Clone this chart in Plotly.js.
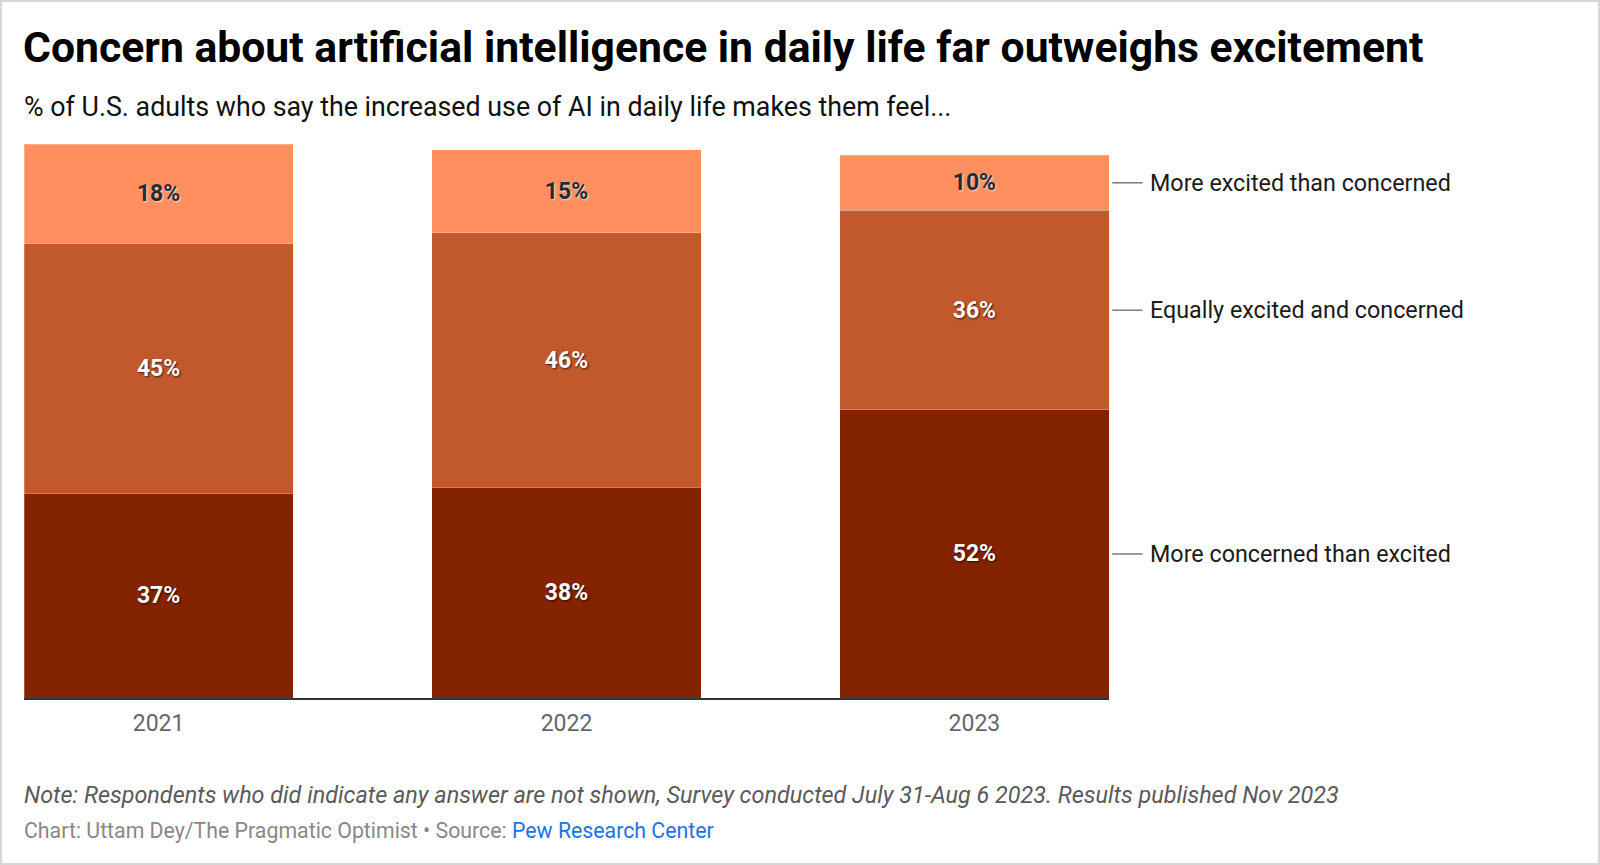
<!DOCTYPE html>
<html>
<head>
<meta charset="utf-8">
<script src="https://cdn.plot.ly/plotly-3.0.1.min.js"></script>
<style>
  html, body { margin: 0; padding: 0; background: #fff; }
  #wrap { position: relative; width: 1600px; height: 865px; }
  #chart { width: 1600px; height: 865px; }
  #frame { position: absolute; left: 0; top: 0; width: 1600px; height: 865px; box-sizing: border-box; border: 2px solid #d6d6d6; pointer-events: none; }
</style>
</head>
<body>
<div id="wrap"><div id="chart"></div><div id="frame"></div></div>
<script>
const years = ['2021', '2022', '2023'];
const seriesNames = ['More concerned than excited', 'Equally excited and concerned', 'More excited than concerned'];
const concerned = [37, 38, 52];
const equally = [45, 46, 36];
const excited = [18, 15, 10];
const colors = ['#832300', '#C1592D', '#FF8F5E'];

const values = [concerned, equally, excited];
const darkShadow = '1px 1px 2px rgba(0,0,0,0.7)';
const lightShadow = '1px 1px 2px rgba(255,255,255,0.7)';

const traces = values.map((vals, i) => ({
  type: 'bar',
  name: seriesNames[i],
  x: years,
  y: vals,
  marker: { color: colors[i], line: { color: 'rgba(255,255,255,0.25)', width: 1 } },
  text: vals.map(v => v + '%'),
  textposition: 'inside',
  insidetextanchor: 'middle',
  textangle: 0,
  constraintext: 'none',
  textfont: {
    family: 'Roboto, sans-serif', size: 23, weight: 700,
    color: i === 2 ? '#1f2d33' : '#ffffff',
    shadow: i === 2 ? lightShadow : darkShadow
  },
  hoverinfo: 'skip'
}));

// right-side labels at the middle of each 2023 segment
const last = years.length - 1;
const shapes = [];
const annotations = [];
let cum = 0;
values.forEach((vals, i) => {
  const mid = cum + vals[last] / 2;
  cum += vals[last];
  shapes.push({ type: 'line', xref: 'paper', yref: 'y', x0: 1.003, x1: 1.031, y0: mid, y1: mid,
    line: { color: '#7a7a7a', width: 1.5 } });
  annotations.push({ xref: 'paper', yref: 'y', x: 1.036, y: mid, xanchor: 'left', yanchor: 'middle',
    text: seriesNames[i], showarrow: false, font: { family: 'Roboto, sans-serif', size: 23.3, color: '#1a1a1a' } });
});

annotations.push({
  xref: 'paper', yref: 'paper', x: -0.002, y: 1.067, xanchor: 'left', yanchor: 'middle', showarrow: false,
  text: '% of U.S. adults who say the increased use of AI in daily life makes them feel...',
  font: { family: 'Roboto, sans-serif', size: 26.8, color: '#111111' }
});
annotations.push({
  xref: 'paper', yref: 'paper', x: -0.002, y: -0.175, xanchor: 'left', yanchor: 'middle', showarrow: false,
  text: '<i>Note: Respondents who did indicate any answer are not shown, Survey conducted July 31-Aug 6 2023. Results published Nov 2023</i>',
  font: { family: 'Roboto, sans-serif', size: 23.4, color: '#5a5a5a' }
});
annotations.push({
  xref: 'paper', yref: 'paper', x: -0.002, y: -0.240, xanchor: 'left', yanchor: 'middle', showarrow: false,
  text: 'Chart: Uttam Dey/The Pragmatic Optimist • Source: <span style="color:#1a73e8">Pew Research Center</span>',
  font: { family: 'Roboto, sans-serif', size: 21.3, color: '#888888' }
});

const layout = {
  width: 1600, height: 865,
  margin: { l: 23.5, r: 491, t: 144, b: 167 },
  paper_bgcolor: '#ffffff', plot_bgcolor: '#ffffff',
  barmode: 'stack',
  bargap: 0.34,
  showlegend: false,
  title: {
    text: '<b>Concern about artificial intelligence in daily life far outweighs excitement</b>',
    xref: 'container', yref: 'container', x: 23 / 1600, xanchor: 'left', y: 1 - 47 / 865, yanchor: 'middle',
    font: { family: 'Roboto, sans-serif', size: 42.7, color: '#000000' }
  },
  xaxis: {
    type: 'category', range: [-0.33, 2.33], fixedrange: true,
    showline: true, linecolor: '#333333', linewidth: 1.5,
    showgrid: false, zeroline: false, ticks: '', ticklabelstandoff: 4,
    tickfont: { family: 'Roboto, sans-serif', size: 23, color: '#666666' }
  },
  yaxis: {
    range: [0, 100], visible: false, fixedrange: true, showgrid: false, zeroline: false
  },
  shapes: shapes,
  annotations: annotations
};

Plotly.newPlot('chart', traces, layout, { displayModeBar: false, staticPlot: true });
</script>
</body>
</html>
